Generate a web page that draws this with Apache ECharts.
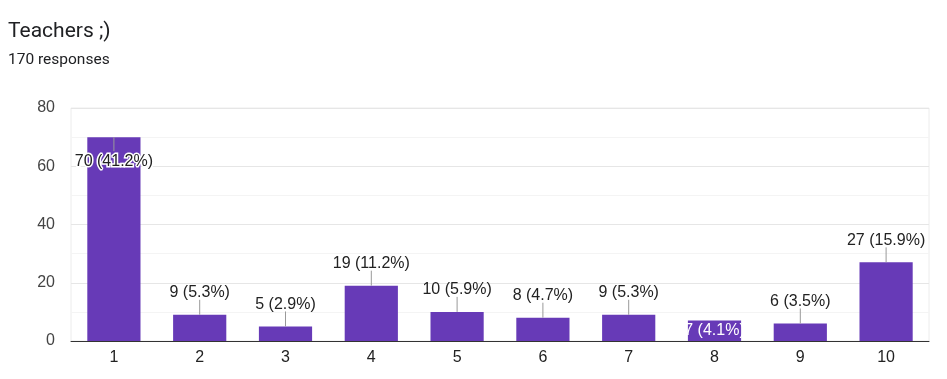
<!DOCTYPE html>
<html><head><meta charset="utf-8">
<script src="https://cdn.jsdelivr.net/npm/echarts@6/dist/echarts.min.js"></script>
<style>html,body{margin:0;padding:0;background:#fff}#c{width:947px;height:379px}</style>
</head><body><div id="c"></div>
<script>
const categories = ['1','2','3','4','5','6','7','8','9','10'];
const counts = [70, 9, 5, 19, 10, 8, 9, 7, 6, 27];
const percents = ['41.2', '5.3', '2.9', '11.2', '5.9', '4.7', '5.3', '4.1', '3.5', '15.9'];
const yTicks = [0, 20, 40, 60, 80];
// label placement mode per bar: 'top', 'insideTop', 'inside'
const labelModes = ['insideTop','top','top','top','top','top','top','inside','top','top'];

const chart = echarts.init(document.getElementById('c'));
const font = 'Arial, "Liberation Sans", sans-serif';

const barData = counts.map((v, i) => {
  const mode = labelModes[i];
  const item = { value: v };
  if (mode === 'insideTop') {
    item.label = { position: 'insideTop', distance: 16, color: '#222', textBorderColor: '#fff', textBorderWidth: 3 };
  } else if (mode === 'inside') {
    item.label = { position: 'inside', color: '#fff' };
  }
  return item;
});

const leaderData = counts.map((v, i) => [i, v]);

chart.setOption({
  animation: false,
  title: [
    { text: 'Teachers ;)', left: 3, top: 16, textStyle: { fontFamily: 'Roboto, sans-serif', fontSize: 21, fontWeight: 'normal', color: '#202124' } },
    { text: '170 responses', left: 3, top: 47, textStyle: { fontFamily: 'Roboto, sans-serif', fontSize: 15.5, fontWeight: 'normal', color: '#202124' } }
  ],
  grid: { left: 71, right: 18, top: 108, bottom: 38, show: true, borderColor: '#ececec', borderWidth: 1 },
  xAxis: {
    type: 'category', data: categories,
    axisLine: { lineStyle: { color: '#333', width: 1 } },
    axisTick: { show: false },
    axisLabel: { color: '#222', fontFamily: font, fontSize: 16, margin: 9 }
  },
  yAxis: {
    type: 'value', min: 0, max: 80, interval: 10,
    axisLine: { show: false }, axisTick: { show: false },
    axisLabel: { color: '#444', fontFamily: font, fontSize: 16, margin: 16,
      formatter: v => yTicks.indexOf(v) >= 0 ? String(v) : '' },
    splitLine: { lineStyle: { color: ['#e6e6e6', '#f4f4f4'], width: 1 } }
  },
  series: [
    {
      type: 'bar', data: barData, barWidth: '62%',
      itemStyle: { color: '#673ab7' },
      label: {
        show: true, position: 'top', distance: 14,
        fontFamily: font, fontSize: 16, color: '#222',
        formatter: p => p.value + ' (' + percents[p.dataIndex] + '%)'
      },
      z: 2
    },
    {
      type: 'custom', data: leaderData, z: 3, silent: true,
      renderItem: (params, api) => {
        const p = api.coord([api.value(0), api.value(1)]);
        if (labelModes[params.dataIndex] === 'inside') return null;
        const down = labelModes[params.dataIndex] === 'insideTop';
        return {
          type: 'line',
          shape: { x1: p[0], y1: p[1], x2: p[0], y2: down ? p[1] + 14 : p[1] - 15 },
          style: { stroke: '#999', lineWidth: 1 }
        };
      }
    }
  ]
});
</script></body></html>
